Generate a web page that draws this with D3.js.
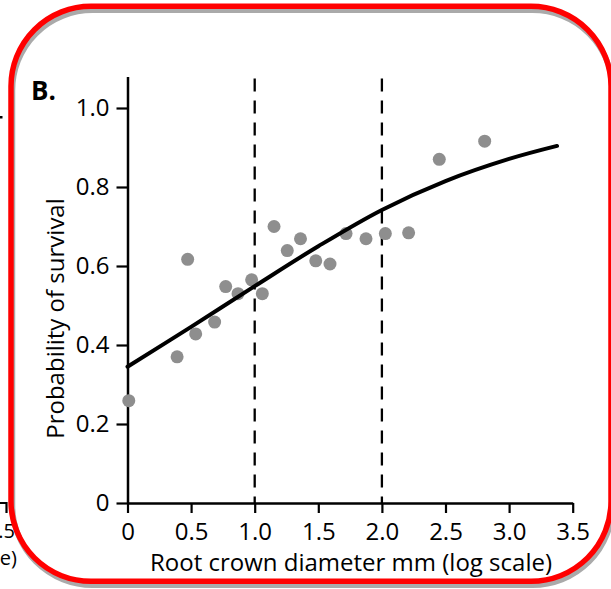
<!DOCTYPE html>
<html>
<head>
<meta charset="utf-8">
<script src="https://cdn.jsdelivr.net/npm/d3@7"></script>
<style>
  html, body { margin: 0; padding: 0; background: #fff; }
  svg { display: block; }
  text { font-family: "Open Sans", "DejaVu Sans", sans-serif; }
</style>
</head>
<body>
<div id="chart"></div>
<script>
// ---- data ----
const pointX = [0.01, 0.39, 0.473, 0.536, 0.685, 0.772, 0.869, 0.976, 1.06, 1.152, 1.256, 1.36, 1.48, 1.592, 1.718, 1.875, 2.027, 2.21, 2.451, 2.808];
const pointY = [0.259, 0.370, 0.617, 0.428, 0.458, 0.548, 0.530, 0.565, 0.530, 0.700, 0.639, 0.669, 0.613, 0.605, 0.682, 0.669, 0.682, 0.684, 0.870, 0.916];
const curveX = [0, 0.5, 1.0, 1.5, 2.0, 2.5, 3.0, 3.377];
const curveY = [0.345, 0.446, 0.549, 0.650, 0.742, 0.815, 0.871, 0.904];
const cutoffs = [1.0, 2.0];
const xTicks = [0, 0.5, 1.0, 1.5, 2.0, 2.5, 3.0, 3.5];
const xTickLabels = ["0", "0.5", "1.0", "1.5", "2.0", "2.5", "3.0", "3.5"];
const yTicks = [0, 0.2, 0.4, 0.6, 0.8, 1.0];
const yTickLabels = ["0", "0.2", "0.4", "0.6", "0.8", "1.0"];
const panelLabel = "B.";
const xTitle = "Root crown diameter mm (log scale)";
const yTitle = "Probability of survival";

const W = 611, H = 589;
const svg = d3.select("#chart").append("svg").attr("width", W).attr("height", H);

const x = d3.scaleLinear().domain([0, 3.5]).range([127.5, 572.7]);
const y = d3.scaleLinear().domain([0, 1.08]).range([503, 76.4]);

// ---- fragments of neighbouring panel (cut off at left) ----
const frag = svg.append("g");
frag.append("path").attr("d", "M0,503H6.5V513").attr("fill", "none").attr("stroke", "#000").attr("stroke-width", 2.2);
frag.append("rect").attr("x", 0).attr("y", 116).attr("width", 2.5).attr("height", 2.5).attr("fill", "#000");
frag.append("text").attr("x", 15).attr("y", 538).attr("text-anchor", "end").attr("font-size", 20).text("3.5");
frag.append("text").attr("x", 17).attr("y", 565).attr("text-anchor", "end").attr("font-size", 20).text("(log scale)");

// ---- frame ----
svg.append("rect").attr("x", 12.5).attr("y", 10.3).attr("width", 600).attr("height", 575)
  .attr("rx", 80).attr("fill", "none").attr("stroke", "#aaaaaa").attr("stroke-width", 5.5);
svg.append("rect").attr("x", 11).attr("y", 6.3).attr("width", 600).attr("height", 575)
  .attr("rx", 80).attr("fill", "none").attr("stroke", "#ff0000").attr("stroke-width", 5.5);

// ---- dashed cutoffs ----
svg.selectAll("line.cut").data(cutoffs).enter().append("line")
  .attr("class", "cut")
  .attr("x1", d => x(d)).attr("x2", d => x(d))
  .attr("y1", y.range()[1] + 2).attr("y2", y(0))
  .attr("stroke", "#000").attr("stroke-width", 2.3)
  .attr("stroke-dasharray", "13,9");

// ---- axes ----
const xAxis = d3.axisBottom(x).tickValues(xTicks).tickFormat((d, i) => xTickLabels[i])
  .tickSize(10).tickSizeOuter(0).tickPadding(10);
const gx = svg.append("g").attr("transform", `translate(0,${y(0)})`).call(xAxis);
const yAxis = d3.axisLeft(y).tickValues(yTicks).tickFormat((d, i) => yTickLabels[i])
  .tickSize(11).tickSizeOuter(0).tickPadding(7);
const gy = svg.append("g").attr("transform", `translate(${x(0)},0)`).call(yAxis);
[gx, gy].forEach(g => {
  g.selectAll("path.domain").attr("stroke", "#000").attr("stroke-width", 2.5);
  g.selectAll(".tick line").attr("stroke", "#000").attr("stroke-width", 2.2);
  g.selectAll(".tick text").attr("fill", "#000").attr("font-size", 24)
    .attr("font-family", "'Open Sans', sans-serif");
});

// ---- points ----
const pts = pointX.map((v, i) => ({ x: v, y: pointY[i] }));
svg.selectAll("circle.pt").data(pts).enter().append("circle")
  .attr("class", "pt")
  .attr("cx", d => x(d.x)).attr("cy", d => y(d.y)).attr("r", 6.5)
  .attr("fill", "#8e8e8e");

// ---- fitted curve ----
const curve = curveX.map((v, i) => [v, curveY[i]]);
svg.append("path").datum(curve)
  .attr("d", d3.line().x(d => x(d[0])).y(d => y(d[1])).curve(d3.curveCatmullRom))
  .attr("fill", "none").attr("stroke", "#000").attr("stroke-width", 4).attr("stroke-linecap", "round");

// ---- titles ----
svg.append("text").attr("x", 31).attr("y", 100).attr("font-size", 26).attr("font-weight", "bold").text(panelLabel);
svg.append("text").attr("x", 351).attr("y", 571).attr("text-anchor", "middle")
  .attr("font-size", 24).text(xTitle);
svg.append("text").attr("transform", "translate(64,318.5) rotate(-90)").attr("text-anchor", "middle")
  .attr("font-size", 24).text(yTitle);
</script>
</body>
</html>
